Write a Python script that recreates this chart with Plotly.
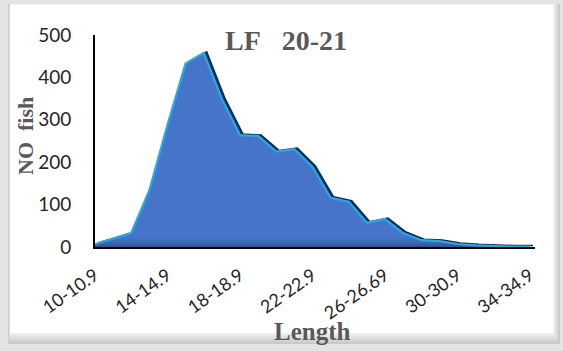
import plotly.graph_objects as go

# Length classes (cm) and number of fish per class
length_classes = [
    "10-10.9", "11-11.9", "12-12.9", "13-13.9", "14-14.9", "15-15.9", "16-16.9",
    "17-17.9", "18-18.9", "19-19.9", "20-20.9", "21-21.9", "22-22.9", "23-23.9",
    "24-24.9", "25-25.9", "26-26.69", "27-27.9", "28-28.9", "29-29.9", "30-30.9",
    "31-31.9", "32-32.9", "33-33.9", "34-34.9",
]
fish_counts = [
    7, 20, 33, 134, 288, 433, 458, 349, 264, 262, 225, 231, 189, 116,
    107, 57, 66, 33, 16, 14, 7, 4, 2, 1, 1,
]
y_ticks = [0, 100, 200, 300, 400, 500]
x_ticks = length_classes[::4]

# Plot area geometry (pixels)
W_FIG, H_FIG = 563, 351
LEFT, RIGHT, TOP, BOTTOM = 95, 535, 35, 247
PW, PH = RIGHT - LEFT, BOTTOM - TOP
X_MAX = 24.28
Y_MAX = 500

def fx(x):
    return (x - LEFT) / PW

def fy(y):
    return (BOTTOM - y) / PH

# depth offset of the back face, in axis units
dx = 3.0 / (PW / X_MAX)
dy = 1.0 / (PH / Y_MAX)

fig = go.Figure()

# back (shadow) face of the 3-D area, on the lower (main) axes
fig.add_trace(go.Scatter(
    x=length_classes, y=fish_counts, xaxis="x", yaxis="y",
    mode="lines", fill="tozeroy", fillcolor="#163a66",
    line=dict(color="#0f2a4d", width=1.5), hoverinfo="skip", showlegend=False,
))
# front face, on the overlaid axes that carry the ticks
fig.add_trace(go.Scatter(
    x=length_classes, y=fish_counts, xaxis="x2", yaxis="y2",
    mode="lines", fill="tozeroy",
    fillgradient=dict(type="vertical", start=0, stop=22,
                      colorscale=[[0, "#2c5296"], [0.5, "#3f68b6"], [1, "#4674c8"]]),
    line=dict(color="#2aa8e2", width=2.2), showlegend=False,
))

# framed picture border with a soft shadow
shapes = []
shapes.append(dict(type="rect", xref="paper", yref="paper",
                   x0=fx(0), x1=fx(W_FIG), y0=fy(H_FIG), y1=fy(0),
                   fillcolor="#e4e4e4", line=dict(width=0), layer="below"))
shadow = ["#c9c9c9", "#d2d2d2", "#dadada", "#e2e2e2", "#eaeaea", "#f2f2f2"]
for i, c in enumerate(shadow):
    shapes.append(dict(type="rect", xref="paper", yref="paper",
                       x0=fx(8 + i * 0.5), x1=fx(560 - i * 1.2),
                       y0=fy(344 - i * 2), y1=fy(4),
                       fillcolor=c, line=dict(width=0), layer="below"))
shapes.append(dict(type="rect", xref="paper", yref="paper",
                   x0=fx(10), x1=fx(553), y0=fy(333), y1=fy(5),
                   fillcolor="#ffffff", line=dict(width=0), layer="below"))

title_font = dict(family="Liberation Serif", size=28, color="#595959")
annotations = [
    dict(text="<b>LF\u00a0\u00a0\u00a020-21</b>", xref="paper", yref="paper",
         x=fx(286), y=fy(40), showarrow=False, font=title_font,
         xanchor="center", yanchor="middle"),
    dict(text="<b>NO\u00a0\u00a0fish</b>", xref="paper", yref="paper",
         x=fx(25), y=fy(136), showarrow=False, textangle=-90,
         font=dict(family="Liberation Serif", size=22, color="#595959"),
         xanchor="center", yanchor="middle"),
    dict(text="<b>Length</b>", xref="paper", yref="paper",
         x=fx(312), y=fy(331), showarrow=False,
         font=dict(family="Liberation Serif", size=25, color="#595959"),
         xanchor="center", yanchor="middle"),
]

fig.update_layout(
    width=W_FIG, height=H_FIG,
    margin=dict(l=LEFT, r=W_FIG - RIGHT, t=TOP, b=H_FIG - BOTTOM, pad=0),
    paper_bgcolor="#ffffff", plot_bgcolor="rgba(0,0,0,0)",
    shapes=shapes, annotations=annotations,
    xaxis=dict(
        type="category", categoryorder="array", categoryarray=length_classes,
        range=[-dx, X_MAX - dx], visible=False,
    ),
    yaxis=dict(range=[-dy, Y_MAX - dy], visible=False),
    xaxis2=dict(
        type="category", categoryorder="array", categoryarray=length_classes,
        overlaying="x", anchor="y2", side="bottom",
        range=[0, X_MAX], tickvals=x_ticks, ticktext=x_ticks, tickangle=-35,
        showgrid=False, zeroline=False, showline=True, linecolor="#000000",
        linewidth=2, ticks="", ticklabelstandoff=9,
        tickfont=dict(family="Lato", size=18, color="#262626"),
    ),
    yaxis2=dict(
        overlaying="y", anchor="x2", side="left",
        range=[0, Y_MAX], tickvals=y_ticks, showgrid=False, zeroline=False,
        showline=True, linecolor="#000000", linewidth=2, ticks="",
        ticklabelstandoff=18,
        tickfont=dict(family="Lato", size=19, color="#262626"),
    ),
)

fig.write_html("out.html")
